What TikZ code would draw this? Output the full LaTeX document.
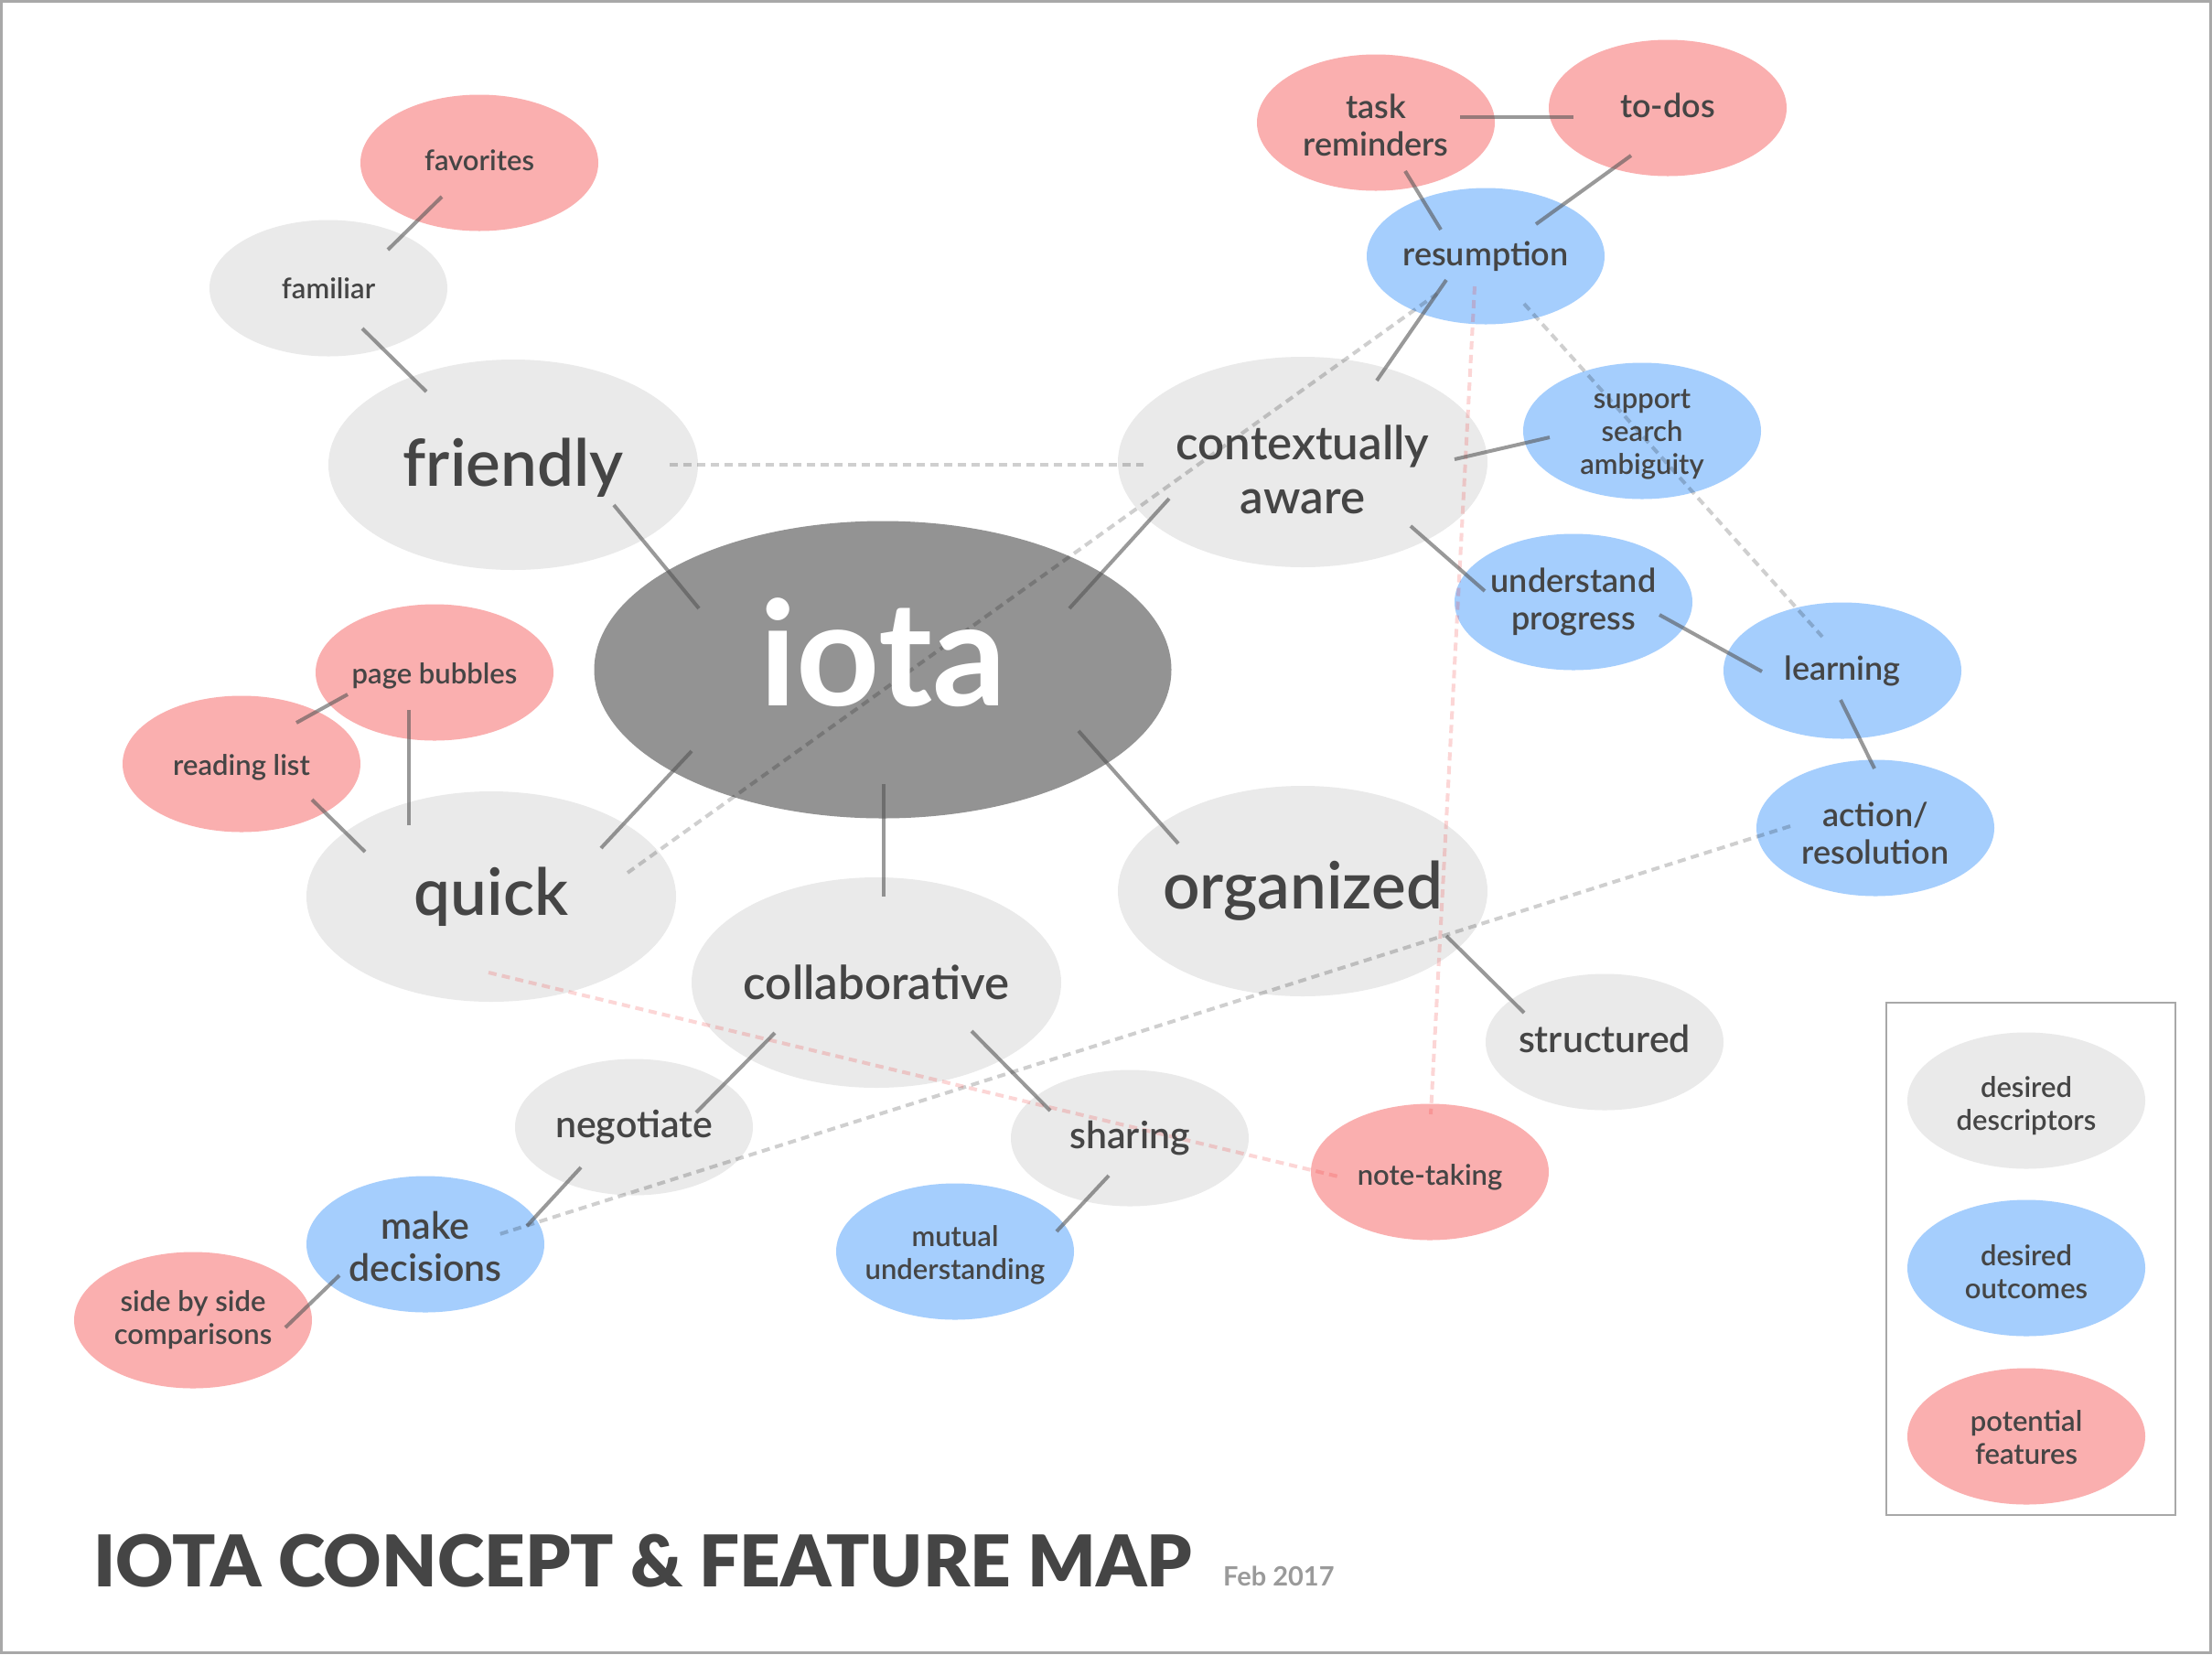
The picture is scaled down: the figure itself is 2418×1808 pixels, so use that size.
\documentclass[tikz,border=0pt]{standalone}
\usepackage{fontspec}
\setmainfont{Lato Semibold}
\newfontfamily\strongfont{Lato Bold}
\newfontfamily\heavyfont{Lato Black}
\usetikzlibrary{shapes.geometric}

\definecolor{descgray}{HTML}{EAEAEA}
\definecolor{outblue}{HTML}{A5CEFD}
\definecolor{featpink}{HTML}{FAAFAF}
\definecolor{hubgray}{HTML}{939393}
\definecolor{ink}{HTML}{454545}
\definecolor{dategray}{HTML}{9A9A9A}
\definecolor{linkgray}{HTML}{555555}
\definecolor{linkred}{HTML}{F03232}
\definecolor{framegray}{HTML}{A8A8A8}

\tikzset{
  bubble/.style={ellipse, inner sep=0pt, minimum width=260pt, minimum height=149pt},
  bigbubble/.style={ellipse, inner sep=0pt, minimum width=404pt, minimum height=230pt},
  desc/.style={fill=descgray},
  outc/.style={fill=outblue},
  feat/.style={fill=featpink},
  hub/.style={ellipse, inner sep=0pt, minimum width=631pt, minimum height=325pt, fill=hubgray},
  link/.style={draw=linkgray, draw opacity=0.6, line width=4pt},
  softlink/.style={draw=black, draw opacity=0.19, line width=4pt, dash pattern=on 9pt off 6pt},
  featlink/.style={draw=linkred, draw opacity=0.2, line width=4pt, dash pattern=on 9pt off 6pt},
  lbl/.style={text=ink, align=center, inner sep=0pt},
  f31/.style={font=\fontsize{31}{36}\selectfont},
  f36/.style={font=\fontsize{36}{41}\selectfont},
  f41/.style={font=\fontsize{41}{46}\selectfont},
  f51/.style={font=\fontsize{51}{59}\selectfont},
  f71/.style={font=\fontsize{71}{80}\selectfont},
}

\begin{document}
\begin{tikzpicture}[x=1pt, y=-1pt]
\useasboundingbox (0,0) rectangle (2418,1808);
\fill[white] (0,0) rectangle (2418,1808);
\draw[framegray, line width=3pt] (1.5,1.5) rectangle (2416.5,1806.5);

% ---- bubbles ----
\node[hub] (iota) at (965,732) {};
\node[bigbubble, desc] (friendly) at (561,508) {};
\node[bigbubble, desc] (quick) at (537,980) {};
\node[bigbubble, desc] (collab) at (958,1074) {};
\node[bigbubble, desc] (ctx) at (1424,505) {};
\node[bigbubble, desc] (organized) at (1424,974) {};

\node[bubble, feat] (fav) at (524,178) {};
\node[bubble, desc] (fam) at (359,315) {};
\node[bubble, feat] (pageb) at (475,735) {};
\node[bubble, feat] (readl) at (264,835) {};
\node[bubble, desc] (negot) at (693,1232) {};
\node[bubble, outc] (maked) at (465,1360) {};
\node[bubble, feat] (sbs) at (211,1443) {};
\node[bubble, outc] (mutual) at (1044,1368) {};
\node[bubble, desc] (sharing) at (1235,1244) {};
\node[bubble, feat] (taskr) at (1504,134) {};
\node[bubble, feat] (todos) at (1823,118) {};
\node[bubble, outc] (resump) at (1624,280) {};
\node[bubble, outc] (support) at (1795,471) {};
\node[bubble, outc] (underst) at (1720,658) {};
\node[bubble, outc] (learning) at (2014,733) {};
\node[bubble, outc] (action) at (2050,905) {};
\node[bubble, desc] (structured) at (1754,1139) {};
\node[bubble, feat] (notetaking) at (1563,1281) {};

% ---- legend ----
\draw[framegray, line width=1.5pt] (2062,1096) rectangle (2378,1656);
\node[bubble, desc] (leg1) at (2215,1203) {};
\node[bubble, outc] (leg2) at (2215,1386) {};
\node[bubble, feat] (leg3) at (2215,1570) {};

% ---- cross links ----
\draw[softlink] ([shift={(171,0)}]friendly.center) -- ([shift={(-174,3)}]ctx.center);
\draw[softlink] ([shift={(149,-26)}]quick.center) -- ([shift={(-53,41)}]resump.center);
\draw[softlink] ([shift={(42,52)}]resump.center) -- ([shift={(-22,-37)}]learning.center);
\draw[softlink] ([shift={(-93,-2)}]action.center) -- ([shift={(81,-11)}]maked.center);
\draw[featlink] ([shift={(-12,33)}]resump.center) -- ([shift={(1,-63)}]notetaking.center);
\draw[featlink] ([shift={(-3,83)}]quick.center) -- ([shift={(-100,5)}]notetaking.center);

% ---- direct links ----
\draw[link] ([shift={(-41,37)}]fav.center) -- ([shift={(65,-42)}]fam.center);
\draw[link] ([shift={(37,44)}]fam.center) -- ([shift={(-95,-80)}]friendly.center);
\draw[link] ([shift={(110,44)}]friendly.center) -- ([shift={(-201,-67)}]iota.center);
\draw[link] ([shift={(-95,24)}]pageb.center) -- ([shift={(60,-45)}]readl.center);
\draw[link] ([shift={(-28,41)}]pageb.center) -- ([shift={(-90,-78)}]quick.center);
\draw[link] ([shift={(77,39)}]readl.center) -- ([shift={(-138,-49)}]quick.center);
\draw[link] ([shift={(-209,89)}]iota.center) -- ([shift={(120,-53)}]quick.center);
\draw[link] ([shift={(1,125)}]iota.center) -- ([shift={(8,-94)}]collab.center);
\draw[link] ([shift={(204,-67)}]iota.center) -- ([shift={(-146,40)}]ctx.center);
\draw[link] ([shift={(214,67)}]iota.center) -- ([shift={(-136,-52)}]organized.center);
\draw[link] ([shift={(92,-6)}]taskr.center) -- ([shift={(-103,10)}]todos.center);
\draw[link] ([shift={(32,53)}]taskr.center) -- ([shift={(-49,-29)}]resump.center);
\draw[link] ([shift={(-40,52)}]todos.center) -- ([shift={(55,-35)}]resump.center);
\draw[link] ([shift={(-43,26)}]resump.center) -- ([shift={(81,-89)}]ctx.center);
\draw[link] ([shift={(166,-3)}]ctx.center) -- ([shift={(-101,7)}]support.center);
\draw[link] ([shift={(118,70)}]ctx.center) -- ([shift={(-97,-12)}]underst.center);
\draw[link] ([shift={(94,14)}]underst.center) -- ([shift={(-88,1)}]learning.center);
\draw[link] ([shift={(-2,32)}]learning.center) -- ([shift={(-1,-65)}]action.center);
\draw[link] ([shift={(157,49)}]organized.center) -- ([shift={(-88,-32)}]structured.center);
\draw[link] ([shift={(-111,55)}]collab.center) -- ([shift={(68,-16)}]negot.center);
\draw[link] ([shift={(104,53)}]collab.center) -- ([shift={(-87,-30)}]sharing.center);
\draw[link] ([shift={(-58,44)}]negot.center) -- ([shift={(111,-20)}]maked.center);
\draw[link] ([shift={(-94,34)}]maked.center) -- ([shift={(101,8)}]sbs.center);
\draw[link] ([shift={(-23,41)}]sharing.center) -- ([shift={(111,-22)}]mutual.center);

% ---- labels (yshift nudges each text onto its line box) ----
\node[inner sep=0pt, text=white, font=\strongfont\fontsize{159}{159}\selectfont] (iota-t) at ([yshift=19pt]iota.center) {iota};
\node[lbl, f71] (friendly-t) at ([yshift=-3pt]friendly.center) {friendly};
\node[lbl, f71] (quick-t) at (quick) {quick};
\node[lbl, f71] (organized-t) at (organized) {organized};
\node[lbl, f51] (collab-t) at (collab) {collaborative};
\node[lbl, f51] (ctx-t) at ([yshift=-8pt]ctx.center) {contextually\\aware};
\node[lbl, f31] (fav-t) at ([yshift=3pt]fav.center) {favorites};
\node[lbl, f31] (fam-t) at (fam) {familiar};
\node[lbl, f31] (pageb-t) at ([yshift=-4pt]pageb.center) {page bubbles};
\node[lbl, f31] (readl-t) at ([yshift=-4pt]readl.center) {reading list};
\node[lbl, f41] (negot-t) at (negot) {negotiate};
\node[lbl, f41] (maked-t) at ([yshift=-2pt]maked.center) {make\\decisions};
\node[lbl, f31] (sbs-t) at (sbs) {side by side\\comparisons};
\node[lbl, f31] (mutual-t) at ([yshift=-4pt]mutual.center) {mutual\\understanding};
\node[lbl, f41] (sharing-t) at (sharing) {sharing};
\node[lbl, f36] (taskr-t) at ([yshift=-3pt]taskr.center) {task\\reminders};
\node[lbl, f36] (todos-t) at ([yshift=3pt]todos.center) {to-dos};
\node[lbl, f36] (resump-t) at (resump) {resumption};
\node[lbl, f31] (support-t) at ([yshift=-4pt]support.center) {support\\search\\ambiguity};
\node[lbl, f36] (underst-t) at (underst) {understand\\progress};
\node[lbl, f36] (learning-t) at (learning) {learning};
\node[lbl, f36] (action-t) at ([yshift=-6pt]action.center) {action/\\resolution};
\node[lbl, f41] (structured-t) at ([yshift=4pt]structured.center) {structured};
\node[lbl, f31] (notetaking-t) at ([yshift=-6pt]notetaking.center) {note-taking};
\node[lbl, f31] (leg1-t) at ([yshift=-6pt]leg1.center) {desired\\descriptors};
\node[lbl, f31] (leg2-t) at ([yshift=-4pt]leg2.center) {desired\\outcomes};
\node[lbl, f31] (leg3-t) at ([yshift=-1pt]leg3.center) {potential\\features};

% ---- title ----
\node[anchor=base west, inner sep=0pt, text=ink, font=\heavyfont\fontsize{78}{78}\selectfont] (title) at (102,1734) {IOTA CONCEPT \& FEATURE MAP};
\node[anchor=base west, inner sep=0pt, text=dategray, font=\strongfont\fontsize{29}{29}\selectfont] (date) at (1337,1733) {Feb 2017};
\end{tikzpicture}
\end{document}
